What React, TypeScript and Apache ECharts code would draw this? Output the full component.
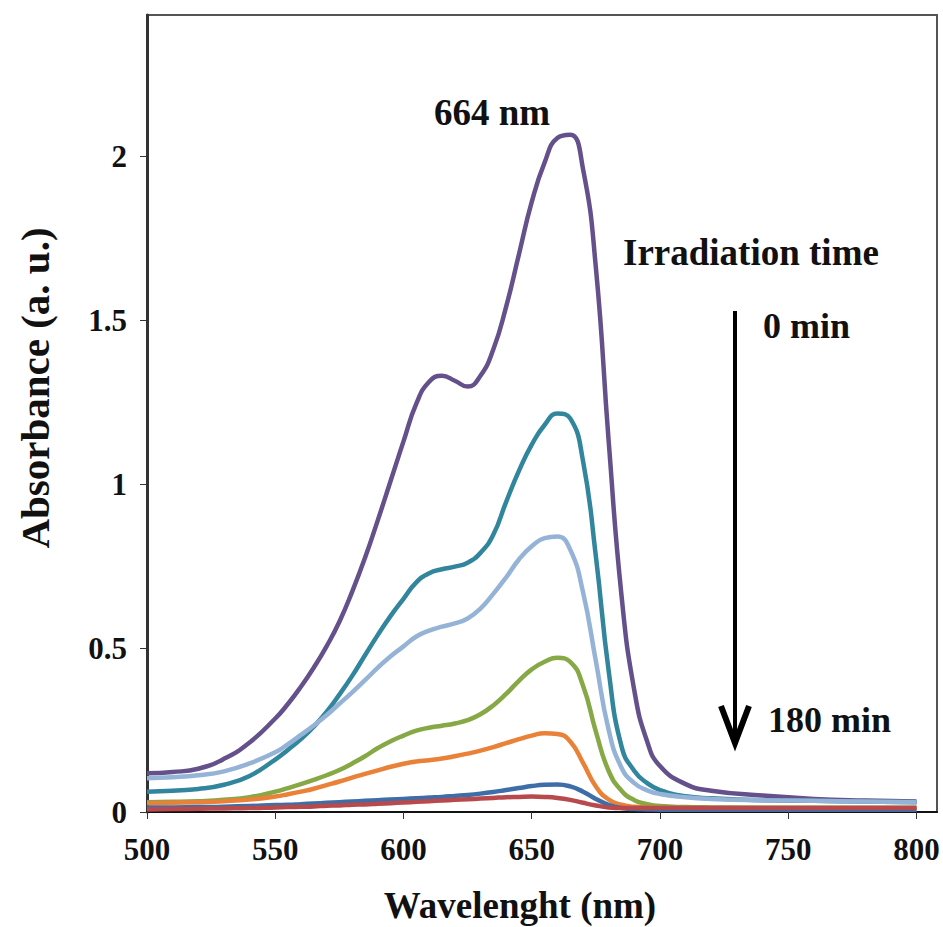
import React, { useEffect, useRef } from "react";
import * as echarts from "echarts";

// Wavelength grid (nm)
const wavelengths = [
  500, 510, 520, 530, 540, 550, 555, 560, 565, 570, 575, 580, 585, 590, 595, 600, 605, 610, 615, 620, 625,
  630, 635, 640, 645, 650, 655, 660, 665, 670, 675, 680, 685, 690, 695, 700, 710, 720, 740, 760, 780, 800,
];

const abs0 = [
  0.118, 0.122, 0.132, 0.162, 0.212, 0.285, 0.33, 0.382, 0.44, 0.505, 0.58, 0.672, 0.775, 0.89, 1.01, 1.13, 1.245, 1.312, 1.33, 1.315, 1.297,
  1.33, 1.41, 1.54, 1.7, 1.86, 1.98, 2.055, 2.065, 1.96, 1.66, 1.13, 0.66, 0.37, 0.215, 0.14, 0.085, 0.065, 0.05, 0.04, 0.035, 0.032,
];
const abs1 = [
  0.062, 0.065, 0.07, 0.083, 0.11, 0.16, 0.19, 0.222, 0.26, 0.305, 0.358, 0.415, 0.478, 0.54, 0.598, 0.65, 0.7, 0.728, 0.74, 0.748, 0.76,
  0.79, 0.845, 0.945, 1.04, 1.12, 1.18, 1.215, 1.2, 1.07, 0.78, 0.43, 0.2, 0.125, 0.088, 0.067, 0.048, 0.042, 0.036, 0.034, 0.032, 0.03,
];
const abs2 = [
  0.103, 0.106, 0.112, 0.124, 0.148, 0.182, 0.207, 0.235, 0.264, 0.295, 0.33, 0.365, 0.402, 0.44, 0.475, 0.505, 0.535, 0.553, 0.565, 0.575, 0.59,
  0.62, 0.665, 0.715, 0.77, 0.81, 0.835, 0.84, 0.8, 0.67, 0.46, 0.25, 0.135, 0.088, 0.066, 0.055, 0.045, 0.04, 0.036, 0.034, 0.032, 0.03,
];
const abs3 = [
  0.03, 0.031, 0.033, 0.037, 0.045, 0.062, 0.073, 0.085, 0.098, 0.112, 0.128, 0.148, 0.17, 0.195, 0.216, 0.233, 0.248, 0.257, 0.263, 0.27, 0.28,
  0.298, 0.325, 0.36, 0.4, 0.435, 0.458, 0.47, 0.458, 0.385, 0.245, 0.125, 0.065, 0.036, 0.024, 0.018, 0.015, 0.014, 0.013, 0.013, 0.013, 0.013,
];
const abs4 = [
  0.027, 0.028, 0.03, 0.033, 0.038, 0.047, 0.054, 0.062, 0.071, 0.082, 0.093, 0.105, 0.116, 0.127, 0.138, 0.147, 0.154, 0.158, 0.163, 0.17, 0.178,
  0.187, 0.198, 0.21, 0.222, 0.233, 0.24, 0.238, 0.215, 0.15, 0.078, 0.038, 0.022, 0.016, 0.014, 0.013, 0.012, 0.012, 0.012, 0.012, 0.012, 0.012,
];
const abs5 = [
  0.014, 0.014, 0.015, 0.016, 0.018, 0.021, 0.022, 0.024, 0.026, 0.028, 0.03, 0.032, 0.034, 0.036, 0.038, 0.04, 0.042, 0.044, 0.046, 0.049, 0.052,
  0.056, 0.061, 0.067, 0.073, 0.079, 0.083, 0.084, 0.078, 0.062, 0.04, 0.022, 0.012, 0.009, 0.008, 0.007, 0.007, 0.007, 0.007, 0.007, 0.007, 0.007,
];
const abs6 = [
  0.008, 0.009, 0.01, 0.011, 0.012, 0.014, 0.015, 0.016, 0.017, 0.019, 0.02, 0.022, 0.023, 0.025, 0.027, 0.029, 0.031, 0.033, 0.035, 0.037, 0.039,
  0.041, 0.043, 0.045, 0.046, 0.047, 0.046, 0.043, 0.037, 0.028, 0.02, 0.014, 0.012, 0.012, 0.012, 0.012, 0.012, 0.012, 0.012, 0.012, 0.012, 0.012,
];

const seriesValues = [abs0, abs1, abs2, abs3, abs4, abs5, abs6];
const seriesNames = ["0 min", "t1", "t2", "t3", "t4", "t5", "180 min"];
const seriesColors = ["#64508a", "#31859c", "#95b3d7", "#86a845", "#ea8138", "#3e6ea8", "#b84a4d"];

const xTicks = [500, 550, 600, 650, 700, 750, 800];
const yTicks = [0, 0.5, 1, 1.5, 2];

const FONT = "Liberation Serif, Times New Roman, serif";

export default function App() {
  const ref = useRef<HTMLDivElement>(null);
  useEffect(() => {
    if (!ref.current) return;
    const chart = echarts.init(ref.current, null, { renderer: "svg" });
    chart.setOption({
      animation: false,
      backgroundColor: "#ffffff",
      grid: {
        left: 147,
        top: 15,
        right: 6,
        bottom: 115,
        show: true,
        borderColor: "#555555",
        borderWidth: 2,
        backgroundColor: "transparent",
      },
      xAxis: {
        type: "value",
        min: 500,
        max: 808,
        splitLine: { show: false },
        axisLine: { show: true, lineStyle: { color: "#111111", width: 2 } },
        axisTick: { show: true, customValues: xTicks, length: 7, lineStyle: { color: "#333333", width: 1 } },
        axisLabel: {
          customValues: xTicks,
          margin: 22,
          fontFamily: FONT,
          fontWeight: "bold",
          fontSize: 31,
          color: "#111111",
        },
      },
      yAxis: {
        type: "value",
        min: 0,
        max: 2.43,
        splitLine: { show: false },
        axisLine: { show: true, lineStyle: { color: "#333333", width: 3 } },
        axisTick: { show: true, customValues: yTicks, length: 7, lineStyle: { color: "#333333", width: 1 } },
        axisLabel: {
          customValues: yTicks,
          margin: 20,
          fontFamily: FONT,
          fontWeight: "bold",
          fontSize: 31,
          color: "#111111",
        },
      },
      series: seriesValues.map((vals, i) => ({
        type: "line",
        name: seriesNames[i],
        data: wavelengths.map((w, j) => [w, vals[j]]),
        smooth: 0.5,
        showSymbol: false,
        lineStyle: { color: seriesColors[i], width: 4.5 },
        itemStyle: { color: seriesColors[i] },
        z: 2,
      })),
      graphic: [
        {
          type: "text",
          x: 520,
          y: 905,
          style: {
            text: "Wavelenght (nm)",
            font: `bold 37px ${FONT}`,
            fill: "#111111",
            textAlign: "center",
            textVerticalAlign: "middle",
          },
        },
        {
          type: "text",
          x: 35,
          y: 388,
          rotation: Math.PI / 2,
          style: {
            text: "Absorbance (a. u.)",
            font: `bold 41px ${FONT}`,
            fill: "#111111",
            textAlign: "center",
            textVerticalAlign: "middle",
          },
        },
        {
          type: "text",
          x: 492,
          y: 112,
          style: {
            text: "664 nm",
            font: `bold 37px ${FONT}`,
            fill: "#111111",
            textAlign: "center",
            textVerticalAlign: "middle",
          },
        },
        {
          type: "text",
          x: 623,
          y: 252,
          style: {
            text: "Irradiation time",
            font: `bold 37px ${FONT}`,
            fill: "#111111",
            textAlign: "left",
            textVerticalAlign: "middle",
          },
        },
        {
          type: "text",
          x: 763,
          y: 326,
          style: {
            text: "0 min",
            font: `bold 36px ${FONT}`,
            fill: "#111111",
            textAlign: "left",
            textVerticalAlign: "middle",
          },
        },
        {
          type: "text",
          x: 768,
          y: 720,
          style: {
            text: "180 min",
            font: `bold 36px ${FONT}`,
            fill: "#111111",
            textAlign: "left",
            textVerticalAlign: "middle",
          },
        },
        {
          type: "line",
          shape: { x1: 735, y1: 311, x2: 735, y2: 738 },
          style: { stroke: "#000000", lineWidth: 4 },
        },
        {
          type: "polyline",
          shape: { points: [[721, 706], [735, 743], [749, 706]] },
          style: { stroke: "#000000", lineWidth: 6, fill: "none", lineJoin: "miter" },
        },
      ],
    });
    return () => chart.dispose();
  }, []);
  return (
    <div
      ref={ref}
      style={{ position: "fixed", left: 0, top: 0, width: 943, height: 927, background: "#fff" }}
    />
  );
}
